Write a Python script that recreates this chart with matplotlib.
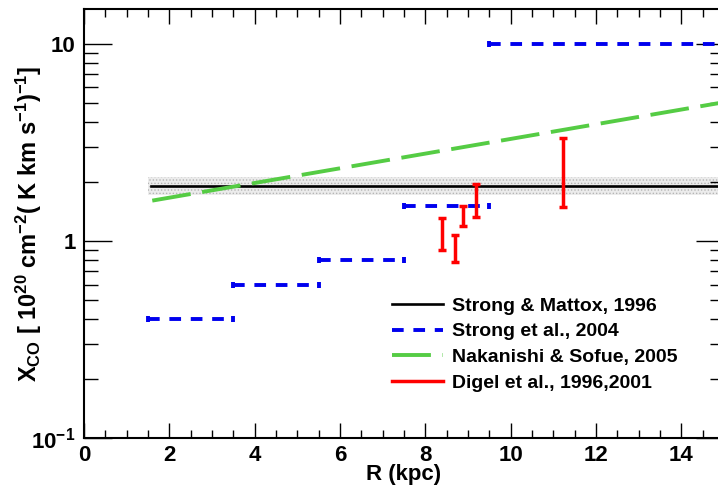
import numpy as np
import matplotlib
matplotlib.use("Agg")
import matplotlib.pyplot as plt
from matplotlib.ticker import FixedLocator, NullFormatter

plt.rcParams['font.family'] = ['Liberation Sans', 'DejaVu Sans']
plt.rcParams['font.weight'] = 'bold'
plt.rcParams['axes.labelweight'] = 'bold'
plt.rcParams['mathtext.fontset'] = 'custom'
plt.rcParams['mathtext.rm'] = 'Liberation Sans:bold'
plt.rcParams['mathtext.bf'] = 'Liberation Sans:bold'
plt.rcParams['mathtext.it'] = 'Liberation Sans:bold'
plt.rcParams['mathtext.default'] = 'bf'
plt.rcParams['hatch.linewidth'] = 0.6

# Strong & Mattox 1996: constant with band
sm_x = [1.57, 15.0]
sm_val = 1.9
sm_band_x = [1.5, 15.0]
sm_lo, sm_hi = 1.7, 2.1

# Strong et al. 2004: radial bins
st_lo = [1.5, 3.5, 5.5, 7.5, 9.5]
st_hi = [3.5, 5.5, 7.5, 9.5, 15.5]
st_val = [0.4, 0.6, 0.8, 1.5, 10.0]

# Nakanishi & Sofue 2005
ns_x = [1.6, 15.0]
ns_y = [1.6, 5.05]

# Digel et al. 1996, 2001
dg_x = [8.38, 8.69, 8.89, 9.18, 11.23]
dg_lo = [0.90, 0.78, 1.19, 1.32, 1.49]
dg_hi = [1.30, 1.07, 1.50, 1.95, 3.31]

fig = plt.figure(figsize=(7.18, 4.86), dpi=100)
ax = fig.add_axes([84/718, 48/486, 640/718, 429/486])

ax.fill_between(sm_band_x, [sm_lo]*2, [sm_hi]*2, facecolor='#ececec',
                edgecolor='#b4b4b4', hatch='.....', lw=0, zorder=1)
ax.plot(sm_x, [sm_val]*2, color='black', lw=1.9, zorder=3,
        label='Strong & Mattox, 1996')

st_c = [(a + b) / 2 for a, b in zip(st_lo, st_hi)]
st_e = [(b - a) / 2 for a, b in zip(st_lo, st_hi)]
eb = ax.errorbar(st_c, st_val, xerr=st_e, fmt='none', ecolor='#0000ee',
                 elinewidth=2.8, capsize=2.5, capthick=2.8, zorder=4)
eb[2][0].set_linestyle((0, (3, 2.5)))
ax.plot([], [], color='#0000ee', lw=2.8, ls=(0, (3, 2.5)),
        label='Strong et al., 2004')

ax.plot(ns_x, ns_y, color='#55cc44', lw=2.8, ls=(0, (10, 3)), zorder=4,
        label='Nakanishi & Sofue, 2005')

dg_c = [(a + b) / 2 for a, b in zip(dg_lo, dg_hi)]
dg_err = [[c - a for c, a in zip(dg_c, dg_lo)], [b - c for c, b in zip(dg_c, dg_hi)]]
ax.errorbar(dg_x, dg_c, yerr=dg_err, fmt='none', ecolor='red', elinewidth=2.5,
            capsize=3, capthick=2.5, zorder=5)
ax.plot([], [], color='red', lw=2.5, label='Digel et al., 1996,2001')

ax.set_yscale('log')
ax.set_xlim(0, 15)
ax.set_ylim(0.1, 15)

ax.set_xticks(np.arange(0, 15, 2))
ax.set_xticks(np.arange(0, 15.1, 0.5), minor=True)
ax.set_yticks([0.1, 1, 10], labels=[r'$10^{-1}$', '1', '10'])
ax.yaxis.set_minor_locator(FixedLocator(
    [m * d for d in (0.1, 1, 10) for m in range(2, 10) if m * d < 15]))
ax.yaxis.set_minor_formatter(NullFormatter())

ax.tick_params(which='both', direction='in', top=True, right=True,
               labelsize=16, width=1.0)
ax.tick_params(axis='x', which='major', length=11, pad=5)
ax.tick_params(axis='x', which='minor', length=5.5)
ax.tick_params(axis='y', which='major', length=20, pad=6)
ax.tick_params(axis='y', which='minor', length=10)
for s in ax.spines.values():
    s.set_linewidth(1.5)

ax.set_xlabel('R (kpc)', fontsize=16, fontweight='bold')
ax.xaxis.set_label_coords(0.5, (438 - 464) / 429)
ax.set_ylabel(r'X$_{CO}$ [ 10$^{20}$ cm$^{-2}$( K km s$^{-1}$)$^{-1}$]',
              fontsize=17, fontweight='bold')
ax.yaxis.set_label_coords((44 - 84) / 640, 0.5)

ax.legend(loc='upper left', bbox_to_anchor=((392 - 84) / 640, (438 - 297) / 429),
          frameon=False, prop={'size': 14, 'weight': 'bold'}, borderpad=0,
          borderaxespad=0, handlelength=2.6, handletextpad=0.5, labelspacing=0.42)

fig.savefig('out.png', dpi=100)
